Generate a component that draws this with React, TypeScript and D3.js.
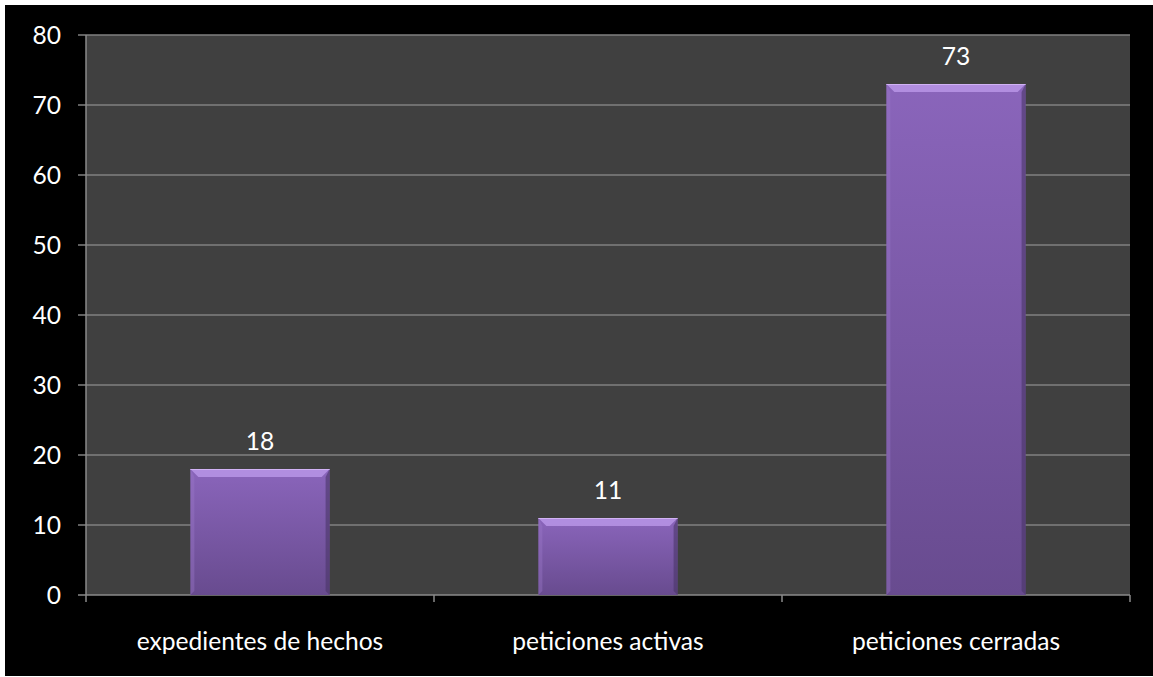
import React from "react";
import * as d3 from "d3";

const categories = ["expedientes de hechos", "peticiones activas", "peticiones cerradas"];
const values = [18, 11, 73];
const yTicks = [0, 10, 20, 30, 40, 50, 60, 70, 80];

export default function App() {
  const W = 1153, H = 677;
  const left = 86, right = 1130, top = 35, bottom = 595;
  const x = d3.scaleBand<string>().domain(categories).range([left, right]).paddingInner(0.6).paddingOuter(0.3);
  const xb = d3.scaleBand<string>().domain(categories).range([left, right]);
  const y = d3.scaleLinear().domain([0, 80]).range([bottom, top]);
  const font = "Lato, 'Open Sans', sans-serif";
  const fs = 24.6;
  const bw = x.bandwidth();
  return (
    <div style={{ position: "absolute", left: 0, top: 0 }}>
      <svg width={W} height={H} style={{ display: "block" }}>
        <defs>
          <linearGradient id="barg" x1="0" y1="0" x2="0" y2="1">
            <stop offset="0" stopColor="#8a65bb" />
            <stop offset="1" stopColor="#684b8f" />
          </linearGradient>
        </defs>
        <rect x={0} y={0} width={W} height={H} fill="#ffffff" />
        <rect x={5} y={5} width={W - 5} height={H - 6} fill="#000000" />
        <rect x={left} y={top} width={right - left} height={bottom - top} fill="#404040" />
        {yTicks.map((t) => (
          <g key={t}>
            <line x1={left - 8} x2={right} y1={y(t)} y2={y(t)} stroke={t === 0 ? "#8a8a8a" : "#808080"} strokeWidth={1.5} />
            <text x={61} y={y(t)} dy="0.36em" textAnchor="end" fill="#ffffff" fontFamily={font} fontSize={fs}>{t}</text>
          </g>
        ))}
        <line x1={left} x2={left} y1={top} y2={bottom} stroke="#8a8a8a" strokeWidth={1.5} />
        {[...categories.map((c) => xb(c) as number), right].map((xx, i) => (
          <line key={i} x1={xx} x2={xx} y1={bottom} y2={bottom + 7} stroke="#8a8a8a" strokeWidth={1.5} />
        ))}
        {categories.map((c, i) => {
          const x0 = x(c) as number;
          const yt = y(values[i]);
          const h = bottom - yt;
          const b = 8;
          return (
            <g key={c}>
              <rect x={x0} y={yt} width={bw} height={h} fill="url(#barg)" />
              <polygon points={`${x0},${yt} ${x0 + bw},${yt} ${x0 + bw - b},${yt + b} ${x0 + b},${yt + b}`} fill="#b995e6" opacity={0.85} />
              <polygon points={`${x0 + bw},${yt} ${x0 + bw},${bottom} ${x0 + bw - 4},${bottom - 4} ${x0 + bw - 4},${yt + b}`} fill="#4a3568" opacity={0.6} />
              <polygon points={`${x0},${yt} ${x0 + 4},${yt + b} ${x0 + 4},${bottom - 4} ${x0},${bottom}`} fill="#9a78c8" opacity={0.4} />
              <line x1={x0} x2={x0 + bw} y1={yt + 0.5} y2={yt + 0.5} stroke="#d1b2f5" strokeWidth={1} />
              <text x={x0 + bw / 2} y={yt - 28} dy="0.36em" textAnchor="middle" fill="#ffffff" fontFamily={font} fontSize={fs}>{values[i]}</text>
              <text x={(xb(c) as number) + xb.bandwidth() / 2} y={641} dy="0.36em" textAnchor="middle" fill="#ffffff" fontFamily={font} fontSize={fs}>{c}</text>
            </g>
          );
        })}
      </svg>
    </div>
  );
}
